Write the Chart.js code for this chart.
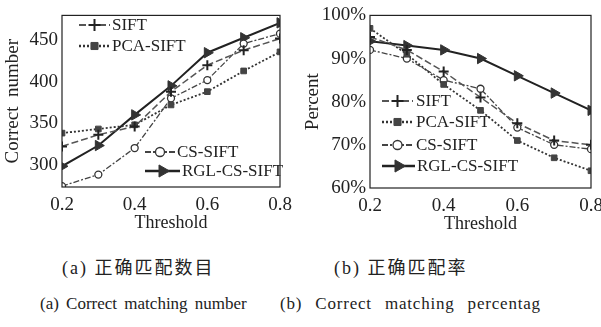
<!DOCTYPE html>
<html>
<head>
<meta charset="utf-8">
<script src="https://cdn.jsdelivr.net/npm/chart.js@4.4.1/dist/chart.umd.min.js"></script>
<style>
  body { margin: 0; background: #fff; width: 601px; height: 327px; position: relative; overflow: hidden; }
  canvas { position: absolute; top: 0; }
  #chartA { left: 0; }
  #chartB { left: 300px; }
  .cap { position: absolute; font-family: "Liberation Serif", "Noto Sans CJK SC", serif; color: #222; white-space: nowrap; line-height: 1; }
  .zh { font-size: 18px; letter-spacing: 2px; }
  .en { font-size: 17px; word-spacing: 3px; }
  .wide { letter-spacing: 0.8px; word-spacing: 8px; }
</style>
</head>
<body>
<canvas id="chartA" width="300" height="240"></canvas>
<canvas id="chartB" width="330" height="240"></canvas>
<div class="cap zh" style="left:62px; top:259px;">(a) 正确匹配数目</div>
<div class="cap zh" style="left:334px; top:259px;">(b) 正确匹配率</div>
<div class="cap en" style="left:40px; top:295px;">(a) Correct matching number</div>
<div class="cap en wide" style="left:280px; top:295px;">(b) Correct matching percentag</div>
<script>
// valores
const thresholds = [0.2, 0.3, 0.4, 0.5, 0.6, 0.7, 0.8];
const seriesNames = ['SIFT', 'PCA-SIFT', 'CS-SIFT', 'RGL-CS-SIFT'];

const numSift = [322, 336, 346, 388, 420, 438, 452];
const numPca = [338, 343, 348, 372, 388, 413, 436];
const numCs = [274, 288, 320, 380, 402, 446, 458];
const numRgl = [298, 323, 360, 395, 435, 453, 471];

const pctSift = [95, 92, 87, 81, 75, 71, 70];
const pctPca = [97, 91, 84, 78, 71, 67, 64];
const pctCs = [92, 90, 85, 83, 74, 70, 69];
const pctRgl = [94, 93, 92, 90, 86, 82, 78];

const xTicks = [0.2, 0.4, 0.6, 0.8];
const yTicksA = [300, 350, 400, 450];
const yTicksB = [60, 70, 80, 90, 100];

const FONT = '"Liberation Serif", serif';

const styles = [
    { borderColor: '#555', borderDash: [7, 3], borderWidth: 1.5, pointStyle: 'crossRot', pointRotation: 45, pointRadius: 5, pointBorderWidth: 2, pointBackgroundColor: '#222', pointBorderColor: '#222' },
    { borderColor: '#333', borderDash: [2, 2], borderWidth: 1.8, pointStyle: 'rect', pointRadius: 4, pointBorderWidth: 1, pointBackgroundColor: '#444', pointBorderColor: '#444' },
    { borderColor: '#444', borderDash: [6, 2, 2, 2], borderWidth: 1.3, pointStyle: 'circle', pointRadius: 3.5, pointBorderWidth: 1.3, pointBackgroundColor: '#fff', pointBorderColor: '#333' },
    { borderColor: '#222', borderDash: [], borderWidth: 2, pointStyle: 'triangle', pointRotation: 90, pointRadius: 6, pointBorderWidth: 1, pointBackgroundColor: '#333', pointBorderColor: '#333' }
];

function buildSets(list) {
    return list.map((vals, i) => Object.assign({
        label: seriesNames[i],
        data: vals.map((v, j) => ({ x: thresholds[j], y: v })),
        fill: false,
        tension: 0
    }, styles[i]));
}

// legenda desenhada dentro da área do gráfico + moldura
const boxLegend = {
    id: 'boxLegend',
    afterDatasetsDraw(chart, args, opts) {
        const ctx = chart.ctx;
        const a = chart.chartArea;
        ctx.save();
        ctx.strokeStyle = '#222';
        ctx.lineWidth = 1.2;
        ctx.setLineDash([]);
        ctx.strokeRect(a.left, a.top, a.right - a.left, a.bottom - a.top);
        ctx.font = '17px ' + FONT;
        ctx.textBaseline = 'middle';
        opts.items.forEach(it => {
            const ds = chart.data.datasets[it.i];
            ctx.strokeStyle = ds.borderColor;
            ctx.lineWidth = ds.borderWidth + 0.5;
            ctx.setLineDash(ds.borderDash);
            ctx.beginPath();
            ctx.moveTo(it.x0, it.y);
            ctx.lineTo(it.x1, it.y);
            ctx.stroke();
            ctx.setLineDash([]);
            ctx.fillStyle = ds.pointBackgroundColor;
            ctx.strokeStyle = ds.pointBorderColor;
            ctx.lineWidth = ds.pointBorderWidth;
            Chart.helpers.drawPoint(ctx, {
                pointStyle: ds.pointStyle,
                rotation: ds.pointRotation || 0,
                radius: ds.pointRadius + 1,
                borderWidth: ds.pointBorderWidth
            }, (it.x0 + it.x1) / 2, it.y);
            ctx.fillStyle = '#222';
            ctx.fillText(ds.label, it.tx, it.y + 1);
        });
        ctx.restore();
    }
};

function makeChart(id, sets, yMin, yMax, yTicks, yTitle, yFmt, pad, yWidth, xHeight, legendItems) {
    return new Chart(document.getElementById(id), {
        type: 'line',
        data: { datasets: sets },
        plugins: [boxLegend],
        options: {
            responsive: false,
            animation: false,
            layout: { padding: pad },
            plugins: {
                legend: { display: false },
                tooltip: { enabled: false },
                boxLegend: { items: legendItems }
            },
            scales: {
                x: {
                    type: 'linear',
                    min: 0.2,
                    max: 0.8,
                    afterBuildTicks: s => { s.ticks = xTicks.map(v => ({ value: v })); },
                    afterFit: s => { s.height = xHeight; },
                    grid: { display: false, drawTicks: false },
                    border: { display: false },
                    ticks: { color: '#222', padding: 7, font: { family: FONT, size: 19 }, callback: v => v.toFixed(1), maxRotation: 0 },
                    title: { display: true, text: 'Threshold', color: '#222', padding: 0, font: { family: FONT, size: 18 } }
                },
                y: {
                    min: yMin,
                    max: yMax,
                    afterBuildTicks: s => { s.ticks = yTicks.map(v => ({ value: v })); },
                    afterFit: s => { s.width = yWidth; },
                    grid: { display: false, drawTicks: false },
                    border: { display: false },
                    ticks: { color: '#222', padding: 4, font: { family: FONT, size: 19 }, callback: yFmt },
                    title: { display: true, text: yTitle, color: '#222', padding: 0, font: { family: FONT, size: 19 } }
                }
            }
        }
    });
}

makeChart('chartA',
    buildSets([numSift, numPca, numCs, numRgl]),
    273, 480, yTicksA, 'Correct  number', v => v,
    { left: 2, right: 20, top: 9, bottom: 6 }, 60, 47,
    [
        { i: 0, x0: 79, x1: 110, tx: 112, y: 25 },
        { i: 1, x0: 79, x1: 110, tx: 112, y: 46 },
        { i: 2, x0: 145, x1: 175, tx: 177, y: 152 },
        { i: 3, x0: 145, x1: 180, tx: 182, y: 171 }
    ]);

makeChart('chartB',
    buildSets([pctSift, pctPca, pctCs, pctRgl]),
    60, 100, yTicksB, 'Percent', v => v + '%',
    { left: 2, right: 39, top: 13, bottom: 5 }, 68, 47,
    [
        { i: 0, x0: 82, x1: 113, tx: 116, y: 101 },
        { i: 1, x0: 82, x1: 113, tx: 116, y: 122 },
        { i: 2, x0: 82, x1: 113, tx: 116, y: 145 },
        { i: 3, x0: 82, x1: 115, tx: 117, y: 166 }
    ]);
</script>
</body>
</html>
